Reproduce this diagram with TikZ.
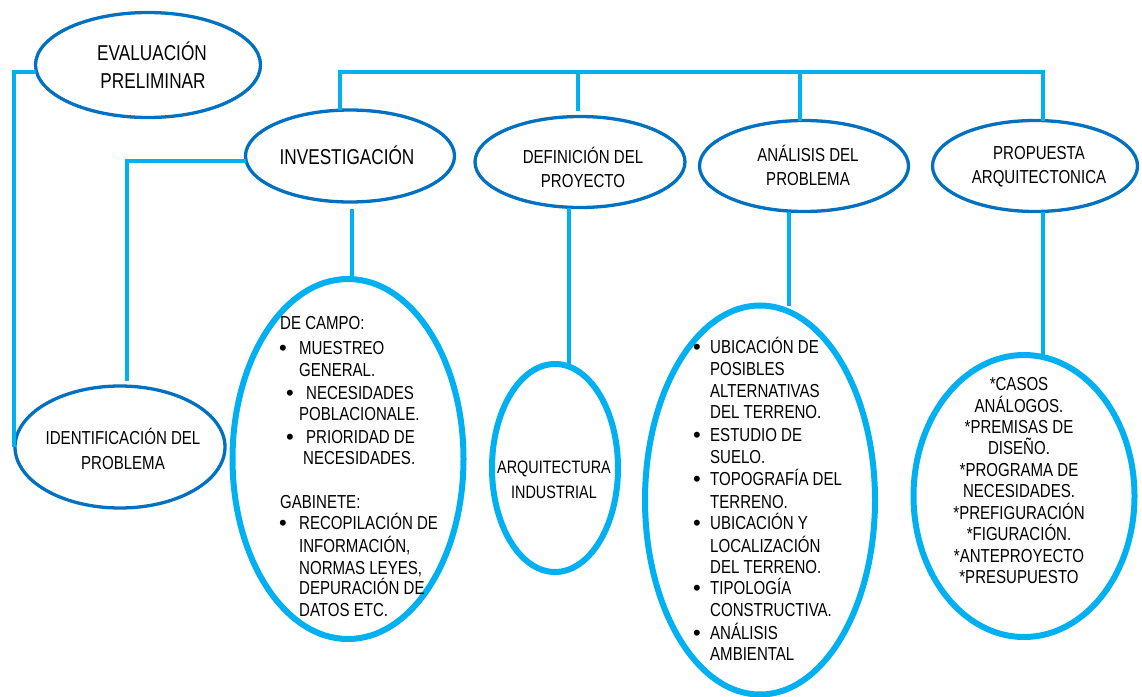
\documentclass[tikz,border=0pt]{standalone}
\usepackage{fontspec}
\usepackage{graphicx}
\setmainfont{Liberation Sans}
\usetikzlibrary{shapes.geometric,calc}
\definecolor{dkblue}{HTML}{0070C0}
\definecolor{ltblue}{HTML}{00B0F0}
\newcommand{\nar}[1]{\scalebox{0.8}[1]{#1}}
\begin{document}
\begin{tikzpicture}[x=1pt,y=-1pt,
  dk/.style={ellipse,draw=dkblue,line width=3.3pt,inner sep=0pt,outer sep=0pt},
  lt/.style={ellipse,draw=ltblue,line width=6pt,inner sep=0pt,outer sep=0pt},
  conn/.style={draw=ltblue,line width=4.6pt},
  hd/.style={font=\fontsize{18.8}{22}\selectfont,inner sep=0pt,anchor=base,text=black},
  bighd/.style={font=\fontsize{21.5}{25}\selectfont,inner sep=0pt,anchor=base,text=black},
  body/.style={font=\fontsize{18.8}{22}\selectfont,inner sep=0pt,anchor=base west,text=black},
  ctr/.style={font=\fontsize{18.8}{22}\selectfont,inner sep=0pt,anchor=base,text=black},
  bul/.style={font=\fontsize{22}{22}\selectfont,inner sep=0pt,anchor=base,text=black}]
\fill[white] (0,0) rectangle (1142,696);
\useasboundingbox (0,0) rectangle (1142,696);

% ellipses
\node[dk,minimum width=225pt,minimum height=105pt] (ev) at (148,65) {};
\node[dk,minimum width=209pt,minimum height=92pt] (inv) at (350,156) {};
\node[dk,minimum width=210pt,minimum height=91pt] (def) at (580,162) {};
\node[dk,minimum width=209pt,minimum height=91pt] (ana) at (804,166) {};
\node[dk,minimum width=205pt,minimum height=91pt] (prop) at (1035,166) {};
\node[dk,minimum width=210pt,minimum height=122pt] (idp) at (120,447) {};
\node[lt,minimum width=231pt,minimum height=360pt] (invsub) at (348,459) {};
\node[lt,minimum width=126pt,minimum height=208pt] (arq) at (555,468) {};
\node[lt,minimum width=230pt,minimum height=389pt] (anasub) at (760,500) {};
\node[lt,minimum width=221pt,minimum height=282pt] (propsub) at (1024,496) {};

% coordinates for connector routing
\coordinate (c1) at (14,72);
\coordinate (c2) at (127,161);
\coordinate (b1) at (340,72);
\coordinate (b2) at (578,72);
\coordinate (b3) at (800,72);
\coordinate (b4) at (1043,72);
\coordinate (d1) at (352,240);
\coordinate (d2) at (569,240);
\coordinate (d3) at (789,240);
\coordinate (d4) at (1043,240);

% connectors
\draw[conn] (ev.west |- c1) -- (c1) -- (c1 |- idp.west);
\draw[conn] (inv.west |- c2) -- (c2) -- ($(c2 |- idp.north)+(0,-5)$);
\draw[conn] (b1 |- inv.north) -- (b1) -- (b4) -- (b4 |- prop.north);
\draw[conn] (b2) -- ($(b2 |- def.north)+(0,-6)$);
\draw[conn] (b3) -- (b3 |- ana.north);
\draw[conn] ($(d1 |- inv.south)+(0,7)$) -- (d1 |- invsub.north);
\draw[conn] (d2 |- def.south) -- (d2 |- arq.north);
\draw[conn] (d3 |- ana.south) -- (d3 |- anasub.north);
\draw[conn] (d4 |- prop.south) -- (d4 |- propsub.north);

% header texts
\node[bighd] (ev1) at (152,60.7) {\nar{EVALUACIÓN}};
\node[bighd] (ev2) at (153,88.7) {\nar{PRELIMINAR}};
\node[bighd] (inv1) at (347,164.7) {\nar{INVESTIGACIÓN}};
\node[hd] (def1) at (583,163.7) {\nar{DEFINICIÓN DEL}};
\node[hd] (def2) at (583,187.7) {\nar{PROYECTO}};
\node[hd] (ana1) at (808,161.7) {\nar{ANÁLISIS DEL}};
\node[hd] (ana2) at (808,185.7) {\nar{PROBLEMA}};
\node[hd] (prop1) at (1039,159.7) {\nar{PROPUESTA}};
\node[hd] (prop2) at (1039,183.7) {\nar{ARQUITECTONICA}};
\node[hd] (idp1) at (123,444.7) {\nar{IDENTIFICACIÓN DEL}};
\node[hd] (idp2) at (123,469.7) {\nar{PROBLEMA}};
\node[hd,font=\fontsize{18}{22}\selectfont] (arq1) at (554,473.5) {\nar{ARQUITECTURA}};
\node[hd,font=\fontsize{18}{22}\selectfont] (arq2) at (554,498.5) {\nar{INDUSTRIAL}};

% investigation list
\foreach \xx/\yy/\tt [count=\i] in {280/323/{DE CAMPO:}, 299/348/{MUESTREO}, 299/370/{GENERAL.},
  306/393/{NECESIDADES}, 299/414/{POBLACIONALE.}, 306/437/{PRIORIDAD DE}, 303/458/{NECESIDADES.},
  280/502/{GABINETE:}, 299/523/{RECOPILACIÓN DE}, 299/546/{INFORMACIÓN,}, 299/568/{NORMAS LEYES,},
  299/588/{DEPURACIÓN DE}, 299/610/{DATOS ETC.}}
  \node[body] (ia\i) at (\xx,\yy+6.7) {\nar{\tt}};
\foreach \xx/\yy [count=\i] in {283/348, 290/393, 290/437, 283/523}
  \node[bul] (ib\i) at (\xx,\yy+7.9) {\textbullet};

% analysis list
\foreach \yy/\tt [count=\i] in {347/{UBICACIÓN DE}, 369/{POSIBLES}, 391/{ALTERNATIVAS}, 412/{DEL TERRENO.},
  435/{ESTUDIO DE}, 457/{SUELO.}, 479/{TOPOGRAFÍA DEL}, 502/{TERRENO.}, 523/{UBICACIÓN Y},
  546/{LOCALIZACIÓN}, 567/{DEL TERRENO.}, 588/{TIPOLOGÍA}, 610/{CONSTRUCTIVA.}, 633/{ANÁLISIS},
  654/{AMBIENTAL}}
  \node[body] (aa\i) at (710,\yy+6.7) {\nar{\tt}};
\foreach \yy [count=\i] in {347, 435, 479, 523, 588, 633}
  \node[bul] (ab\i) at (697,\yy+7.9) {\textbullet};

% proposal list
\foreach \yy/\tt [count=\i] in {384/{*CASOS}, 406/{ANÁLOGOS.}, 427/{*PREMISAS DE}, 448/{DISEÑO.},
  470/{*PROGRAMA DE}, 491/{NECESIDADES.}, 513/{*PREFIGURACIÓN}, 534/{*FIGURACIÓN.},
  556/{*ANTEPROYECTO}, 577/{*PRESUPUESTO}}
  \node[ctr] (pa\i) at (1019,\yy+6.7) {\nar{\tt}};
\end{tikzpicture}
\end{document}
